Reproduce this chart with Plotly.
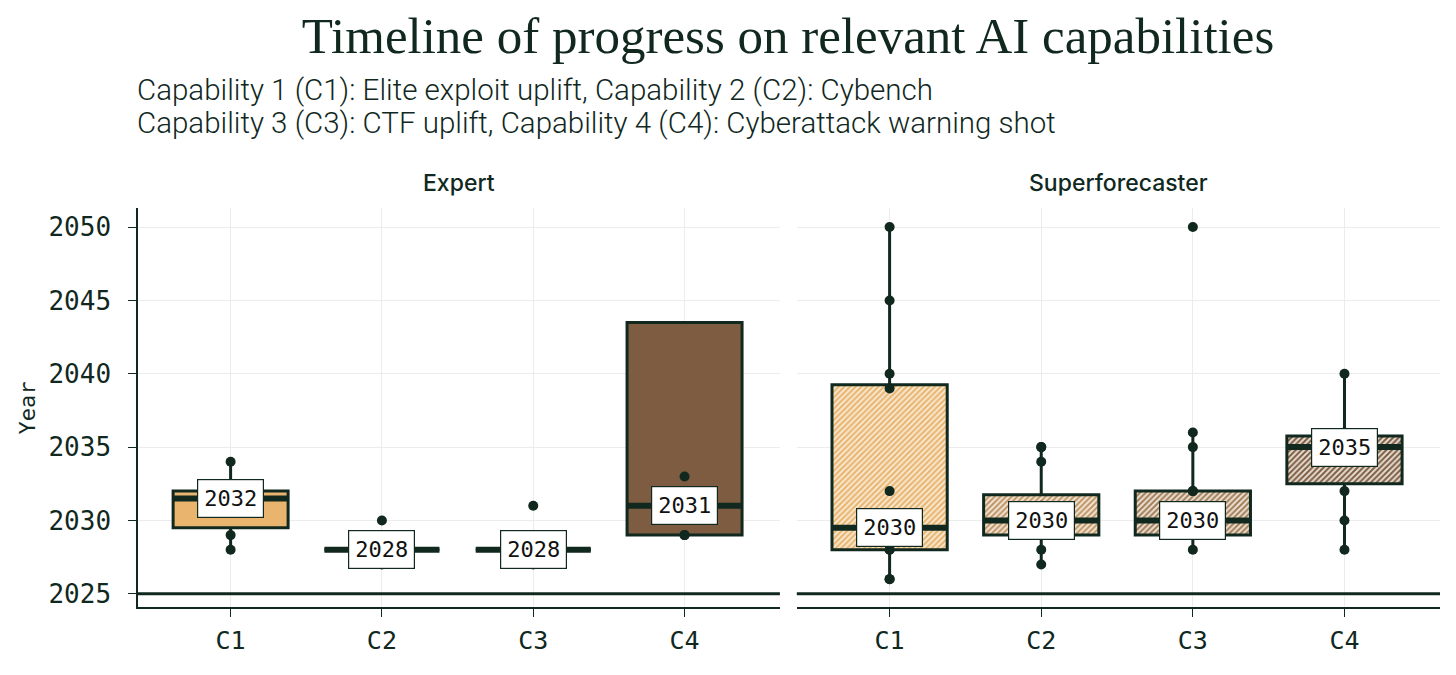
import plotly.graph_objs as go

# capability categories and the two forecaster groups
categories = ["C1", "C2", "C3", "C4"]
groups = ["Expert", "Superforecaster"]

# box statistics (years)
expert_q1 = [2029.5, 2028, 2028, 2029]
expert_median = [2031.5, 2028, 2028, 2031]
expert_q3 = [2032, 2028, 2028, 2043.5]
expert_low = [2028, 2028, 2028, 2029]
expert_high = [2034, 2028, 2028, 2043.5]

super_q1 = [2028, 2029, 2029, 2032.5]
super_median = [2029.5, 2030, 2030, 2035]
super_q3 = [2039.25, 2031.75, 2032, 2035.75]
super_low = [2026, 2027, 2028, 2028]
super_high = [2050, 2035, 2036, 2040]

# individual forecasts
expert_points = [
    [2034, 2032, 2031, 2029, 2028],
    [2030, 2028, 2028, 2027],
    [2031, 2028, 2028, 2027],
    [2033, 2031, 2029, 2029],
]
super_points = [
    [2050, 2045, 2040, 2039, 2032, 2030, 2028, 2028, 2026, 2026],
    [2035, 2035, 2034, 2031, 2030, 2029, 2028, 2027],
    [2050, 2036, 2035, 2032, 2032, 2031, 2030, 2029, 2028],
    [2040, 2036, 2035, 2034, 2032, 2030, 2028],
]

# median labels as printed
expert_labels = ["2032", "2028", "2028", "2031"]
super_labels = ["2030", "2030", "2030", "2035"]

year_ticks = [2025, 2030, 2035, 2040, 2045, 2050]
baseline_year = 2025

title_text = "Timeline of progress on relevant AI capabilities"
subtitle_lines = [
    "Capability 1 (C1): Elite exploit uplift, Capability 2 (C2): Cybench",
    "Capability 3 (C3): CTF uplift, Capability 4 (C4): Cyberattack warning shot",
]

DARK = "#10281e"
fills = ["#e8b46e", "#c09463", "#a17c55", "#7d5c41"]
hatch_bg = ["#f8e8cf", "#f1e6d8", "#ece2d6", "#e6ddd3"]
BOX_W = 0.76
MONO = "DejaVu Sans Mono"

fig = go.Figure()

panels = [
    (expert_q1, expert_median, expert_q3, expert_low, expert_high, expert_points, expert_labels, False),
    (super_q1, super_median, super_q3, super_low, super_high, super_points, super_labels, True),
]

for p, (q1, med, q3, lo, hi, pts, labels, hatched) in enumerate(panels):
    xa = "x" if p == 0 else "x2"
    ya = "y" if p == 0 else "y2"
    for i, cat in enumerate(categories):
        if hatched:
            fig.add_trace(go.Bar(
                x=[i], y=[q3[i] - q1[i]], base=[q1[i]], width=BOX_W,
                marker=dict(color=hatch_bg[i], line=dict(width=0),
                            pattern=dict(shape="/", fgcolor=fills[i], bgcolor=hatch_bg[i],
                                         size=4, solidity=0.5, fillmode="replace")),
                xaxis=xa, yaxis=ya, showlegend=False, hoverinfo="skip",
            ))
        fig.add_trace(go.Box(
            x=[i], q1=[q1[i]], median=[med[i]], q3=[q3[i]],
            lowerfence=[lo[i]], upperfence=[hi[i]],
            width=BOX_W, whiskerwidth=0,
            fillcolor="rgba(0,0,0,0)" if hatched else fills[i],
            line=dict(color=DARK, width=3),
            xaxis=xa, yaxis=ya, showlegend=False, name=cat,
        ))
    # thicker median bars
    mx, my = [], []
    for i in range(len(categories)):
        mx += [i - BOX_W / 2, i + BOX_W / 2, None]
        my += [med[i], med[i], None]
    fig.add_trace(go.Scatter(x=mx, y=my, mode="lines", line=dict(color=DARK, width=6),
                             xaxis=xa, yaxis=ya, showlegend=False, hoverinfo="skip"))
    # individual points
    px, py = [], []
    for i, vals in enumerate(pts):
        px += [i] * len(vals)
        py += vals
    fig.add_trace(go.Scatter(x=px, y=py, mode="markers",
                             marker=dict(color=DARK, size=10),
                             xaxis=xa, yaxis=ya, showlegend=False))
    for i, lab in enumerate(labels):
        fig.add_annotation(x=i, y=med[i], xref=xa, yref=ya, text=lab, showarrow=False,
                           font=dict(family=MONO, size=22, color="#111"),
                           bgcolor="white", bordercolor=DARK, borderwidth=1.2, borderpad=6)
    fig.add_shape(type="line", xref=f"{xa} domain", yref=ya, x0=0, x1=1,
                  y0=baseline_year, y1=baseline_year, line=dict(color=DARK, width=3))

# facet titles
for p, g in enumerate(groups):
    fig.add_annotation(x=0.2465 if p == 0 else 0.753, y=1.063, xref="paper", yref="paper",
                       xanchor="center", yanchor="middle", text=g, showarrow=False,
                       font=dict(family="Inter", size=23, color=DARK, weight=500))

for k, line in enumerate(subtitle_lines):
    fig.add_annotation(
        x=-0.002, y=1.2957 - k * 0.0827, xref="paper", yref="paper", xanchor="left",
        yanchor="middle", align="left", text=line, showarrow=False,
        font=dict(family="Roboto", size=29.5, color=DARK, weight=300),
    )

fig.add_annotation(x=-0.0845, y=0.5, xref="paper", yref="paper", text="Year", textangle=-90,
                   xanchor="center", yanchor="middle", showarrow=False,
                   font=dict(family=MONO, size=22, color=DARK))

xcommon = dict(
    range=[-0.612, 3.63], tickvals=list(range(len(categories))), ticktext=categories,
    showgrid=True, gridcolor="#ececec", gridwidth=1, zeroline=False,
    showline=True, linecolor=DARK, linewidth=1.5, ticks="outside", ticklen=8,
    tickcolor=DARK, tickfont=dict(family=MONO, size=25, color=DARK), ticklabelstandoff=2,
)
ycommon = dict(
    range=[2024.1, 2051.3], tickvals=year_ticks, showgrid=True, gridcolor="#ececec",
    gridwidth=1, zeroline=False,
)

fig.update_layout(
    width=1456, height=675,
    paper_bgcolor="white", plot_bgcolor="white",
    margin=dict(l=130, r=24, t=200, b=76),
    title=dict(text=title_text, x=0.5357, xanchor="center",
               y=0.96, yanchor="middle",
               font=dict(family="Liberation Serif", size=51, color=DARK)),
    barmode="overlay", boxmode="overlay",
    xaxis=dict(domain=[0, 0.493], **xcommon),
    xaxis2=dict(domain=[0.506, 1], **xcommon),
    yaxis=dict(showline=True, linecolor=DARK, linewidth=1.5, ticks="outside", ticklen=8,
               tickcolor=DARK, tickfont=dict(family=MONO, size=26, color=DARK),
               ticklabelstandoff=12, automargin=False, **ycommon),
    yaxis2=dict(anchor="x2", showticklabels=False, showline=False, ticks="", **ycommon),
)

fig.write_html("out.html")
